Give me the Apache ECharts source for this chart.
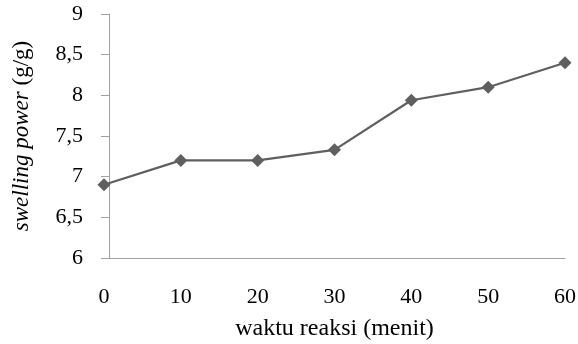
<!DOCTYPE html>
<html>
<head>
<meta charset="utf-8">
<script src="https://cdn.jsdelivr.net/npm/echarts@6/dist/echarts.min.js"></script>
<style>html,body{margin:0;padding:0;background:#fff}#c{width:578px;height:344px}</style>
</head>
<body>
<div id="c"></div>
<script>
var times = [0, 10, 20, 30, 40, 50, 60];
var swelling = [6.9, 7.2, 7.2, 7.33, 7.94, 8.1, 8.4];
var xTitle = 'waktu reaksi (menit)';
var yTitleItalic = 'swelling power';
var yTitleNormal = ' (g/g)';

var chart = echarts.init(document.getElementById('c'), null, {renderer: 'canvas'});
var font = 'Liberation Serif';
chart.setOption({
  animation: false,
  backgroundColor: '#fff',
  grid: {left: 104, right: 13, top: 14, bottom: 86, containLabel: false, outerBoundsMode: 'none'},
  xAxis: {
    type: 'value', min: 0, max: 60, interval: 10,
    axisLine: {show: true, lineStyle: {color: '#a0a0a0', width: 1}},
    axisTick: {show: false},
    splitLine: {show: false},
    axisLabel: {color: '#000', fontFamily: font, fontSize: 22, margin: 28},
    name: xTitle, nameLocation: 'middle', nameGap: 59,
    nameTextStyle: {color: '#000', fontFamily: font, fontSize: 24}
  },
  yAxis: {
    type: 'value', min: 6, max: 9, interval: 0.5, offset: -5,
    axisLine: {show: true, lineStyle: {color: '#a0a0a0', width: 1}},
    axisTick: {show: true, inside: false, length: 8, lineStyle: {color: '#a0a0a0'}},
    splitLine: {show: false},
    axisLabel: {color: '#000', fontFamily: font, fontSize: 22, margin: 26,
      formatter: function (v) { return String(v).replace('.', ','); }},
    name: '{i|' + yTitleItalic + '}{n|' + yTitleNormal + '}',
    nameLocation: 'middle', nameGap: 76, nameRotate: 90,
    nameTextStyle: {
      rich: {
        i: {fontFamily: font, fontSize: 23, fontStyle: 'italic', color: '#000'},
        n: {fontFamily: font, fontSize: 23, color: '#000'}
      }
    }
  },
  series: [{
    type: 'line',
    data: times.map(function (t, i) { return [t, swelling[i]]; }),
    symbol: 'diamond', symbolSize: 13,
    lineStyle: {color: '#5f5f5f', width: 2.2},
    itemStyle: {color: '#5f5f5f'}
  }]
});
</script>
</body>
</html>
